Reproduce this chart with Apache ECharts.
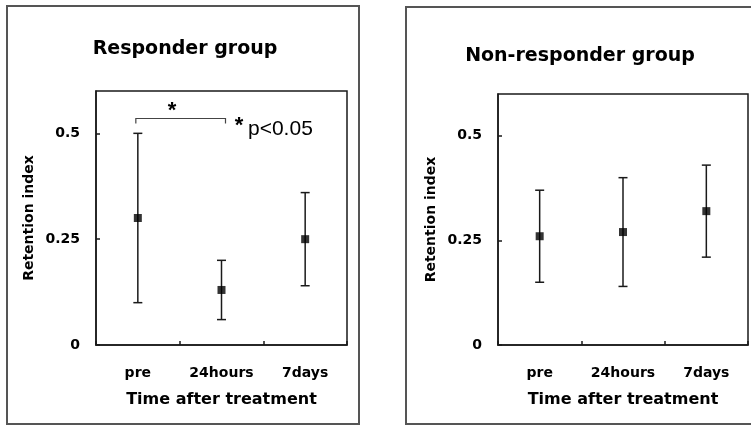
<!DOCTYPE html>
<html>
<head>
<meta charset="utf-8">
<script src="https://cdn.jsdelivr.net/npm/echarts@6/dist/echarts.min.js"></script>
<style>
  html, body { margin: 0; padding: 0; background: #fff; }
  #chart { width: 751px; height: 426px; }
</style>
</head>
<body>
<div id="chart"></div>
<script>
// data
const categories = ['pre', '24hours', '7days'];
const yTicks = [0, 0.25, 0.5];

const respMean = [0.30, 0.13, 0.25];
const respLow = [0.10, 0.06, 0.14];
const respHigh = [0.50, 0.20, 0.36];

const nonMean = [0.26, 0.27, 0.32];
const nonLow = [0.15, 0.14, 0.21];
const nonHigh = [0.37, 0.40, 0.43];

// significance bracket: from category 0 to category 1 at this value
const bracket = [[0, 1, 0.535]];

const ink = '#1a1a1a';
const font = '"DejaVu Sans", sans-serif';

const chart = echarts.init(document.getElementById('chart'));

function errData(low, high) {
  return low.map((l, i) => [i, l, high[i]]);
}

function renderErr(params, api) {
  const i = api.value(0);
  const lo = api.coord([i, api.value(1)]);
  const hi = api.coord([i, api.value(2)]);
  const w = 4.5;
  const style = { stroke: ink, lineWidth: 1.5 };
  return {
    type: 'group',
    children: [
      { type: 'line', shape: { x1: lo[0], y1: lo[1], x2: hi[0], y2: hi[1] }, style },
      { type: 'line', shape: { x1: hi[0] - w, y1: hi[1], x2: hi[0] + w, y2: hi[1] }, style },
      { type: 'line', shape: { x1: lo[0] - w, y1: lo[1], x2: lo[0] + w, y2: lo[1] }, style }
    ]
  };
}

function renderBracket(params, api) {
  const a = api.coord([api.value(0), api.value(2)]);
  const b = api.coord([api.value(1), api.value(2)]);
  const x1 = a[0] - 2, x2 = b[0] + 4;
  return {
    type: 'polyline',
    shape: { points: [[x1, a[1] + 5], [x1, a[1]], [x2, a[1]], [x2, a[1] + 5]] },
    style: { stroke: '#444', lineWidth: 1.2, fill: null }
  };
}

function xAxisOpt(gridIndex) {
  return {
    type: 'category',
    gridIndex,
    data: categories,
    boundaryGap: true,
    name: 'Time after treatment',
    nameLocation: 'middle',
    nameGap: 47,
    nameTextStyle: { fontFamily: font, fontWeight: 'bold', fontSize: 16, color: '#000' },
    axisLine: { show: true, lineStyle: { color: ink, width: 1.5 } },
    axisTick: { show: true, inside: true, length: 4, interval: 0, lineStyle: { color: ink, width: 1.5 } },
    axisLabel: { interval: 0, hideOverlap: false, margin: 21, fontFamily: font, fontWeight: 'bold', fontSize: 14, color: '#000' },
    splitLine: { show: false }
  };
}

function yAxisOpt(gridIndex) {
  return {
    type: 'value',
    gridIndex,
    min: 0,
    max: 0.6,
    interval: 0.25,
    name: 'Retention index',
    nameLocation: 'middle',
    nameRotate: 90,
    nameGap: 60,
    nameTextStyle: { fontFamily: font, fontWeight: 'bold', fontSize: 14, color: '#000' },
    axisLine: { show: true, lineStyle: { color: ink, width: 1.5 } },
    axisTick: { show: true, inside: true, length: 4, lineStyle: { color: ink, width: 1.5 } },
    axisLabel: {
      margin: 16, fontFamily: font, fontWeight: 'bold', fontSize: 14, color: '#000',
      showMaxLabel: false,
      formatter: v => (yTicks.indexOf(v) >= 0 ? String(v) : '')
    },
    splitLine: { show: false }
  };
}

chart.setOption({
  backgroundColor: '#fff',
  animation: false,
  title: [
    {
      text: 'Responder group', left: 180, top: 35, textAlign: 'center',
      textStyle: { fontFamily: font, fontWeight: 'bold', fontSize: 19, color: '#000' }
    },
    {
      text: 'Non-responder group', left: 575, top: 42, textAlign: 'center',
      textStyle: { fontFamily: font, fontWeight: 'bold', fontSize: 19, color: '#000' }
    }
  ],
  grid: [
    { left: 96, top: 91, right: 404, bottom: 81, show: true, borderColor: ink, borderWidth: 1.5, backgroundColor: 'transparent' },
    { left: 498, top: 94, right: 3, bottom: 81, show: true, borderColor: ink, borderWidth: 1.5, backgroundColor: 'transparent' }
  ],
  xAxis: [xAxisOpt(0), xAxisOpt(1)],
  yAxis: [yAxisOpt(0), yAxisOpt(1)],
  series: [
    {
      type: 'custom', xAxisIndex: 0, yAxisIndex: 0,
      data: errData(respLow, respHigh), renderItem: renderErr,
      encode: { x: 0, y: [1, 2] }, z: 2
    },
    {
      type: 'scatter', xAxisIndex: 0, yAxisIndex: 0,
      data: respMean, symbol: 'rect', symbolSize: 8,
      itemStyle: { color: '#000' }, z: 3
    },
    {
      type: 'custom', xAxisIndex: 0, yAxisIndex: 0,
      data: bracket, renderItem: renderBracket,
      encode: { x: [0, 1], y: 2 }, z: 2
    },
    {
      type: 'custom', xAxisIndex: 1, yAxisIndex: 1,
      data: errData(nonLow, nonHigh), renderItem: renderErr,
      encode: { x: 0, y: [1, 2] }, z: 2
    },
    {
      type: 'scatter', xAxisIndex: 1, yAxisIndex: 1,
      data: nonMean, symbol: 'rect', symbolSize: 8,
      itemStyle: { color: '#000' }, z: 3
    }
  ],
  graphic: [
    { type: 'rect', shape: { x: 7, y: 6, width: 352, height: 418 }, style: { fill: null, stroke: '#555', lineWidth: 2 }, silent: true },
    { type: 'rect', shape: { x: 406, y: 7, width: 360, height: 417 }, style: { fill: null, stroke: '#555', lineWidth: 2 }, silent: true },
    { type: 'text', x: 172, y: 111, style: { text: '*', font: 'bold 22px "Liberation Sans", Arial, sans-serif', fill: '#000', align: 'center', verticalAlign: 'middle' } },
    { type: 'text', x: 239, y: 126, style: { text: '*', font: 'bold 22px "Liberation Sans", Arial, sans-serif', fill: '#000', align: 'center', verticalAlign: 'middle' } },
    { type: 'text', x: 248, y: 129, style: { text: 'p<0.05', font: '21px "Liberation Sans", Arial, sans-serif', fill: '#000', align: 'left', verticalAlign: 'middle' } }
  ]
});
</script>
</body>
</html>
